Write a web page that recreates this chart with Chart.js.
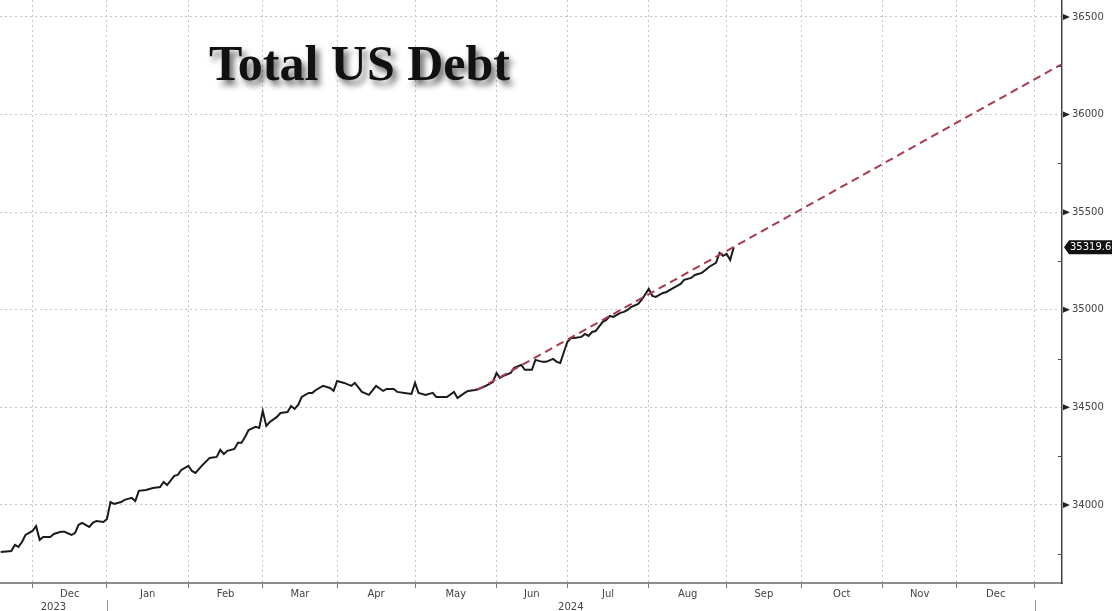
<!DOCTYPE html>
<html lang="en">

<head>
    <meta charset="UTF-8">
    <title>Total US Debt</title>
    <style>
        html, body { margin: 0; padding: 0; background: #fff; overflow: hidden; }
        #debt { display: block; }
    </style>
</head>

<body>
    <canvas id="debt" width="1112" height="611"></canvas>

    <script src="https://cdn.jsdelivr.net/npm/chart.js@4/dist/chart.umd.min.js"></script>

    <script>
        // x = weekday number counted from Mon 1 Jan 2024 (weekends skipped)
        var tradingDay = [-30, -27, -26, -25, -24, -23, -22, -21, -20, -19, -18, -16, -15, -13, -12, -10, -9, -8, -7, -5,
            -4, -3, -1, 0, 1, 2, 4, 5, 7, 8, 9, 11, 13, 15, 16, 17, 19, 20, 21, 23,
            24, 25, 27, 29, 31, 32, 33, 34, 36, 37, 38, 39, 40, 42, 43, 44, 45, 46, 48, 49,
            51, 52, 53, 54, 55, 57, 58, 59, 61, 63, 64, 65, 67, 69, 70, 72, 74, 76, 78, 79,
            81, 82, 84, 86, 87, 88, 90, 92, 93, 96, 98, 99, 101, 102, 104, 105, 107, 109, 110, 111,
            112, 114, 115, 117, 118, 120, 121, 123, 124, 126, 127, 128, 130, 131, 132, 134, 135, 136, 137, 138,
            140, 141, 142, 143, 145, 146, 147, 148, 150, 151, 153, 154, 155, 157, 158, 160, 161, 162, 163, 165,
            166, 168, 169, 170, 172, 173, 174, 175, 176, 177];

        // total public debt, $bn
        var debtBn = [33759, 33764, 33795, 33785, 33810, 33846, 33857, 33867, 33892, 33821, 33836, 33836, 33851, 33862, 33862, 33846, 33857, 33898, 33908, 33887,
            33908, 33918, 33913, 33928, 34015, 34005, 34015, 34026, 34036, 34020, 34072, 34077, 34087, 34092, 34118, 34102, 34149, 34154, 34179, 34200,
            34174, 34164, 34205, 34241, 34246, 34282, 34261, 34277, 34287, 34318, 34318, 34348, 34384, 34400, 34394, 34482, 34405, 34425, 34451, 34471,
            34476, 34507, 34492, 34512, 34553, 34574, 34574, 34589, 34610, 34599, 34584, 34635, 34625, 34610, 34625, 34579, 34564, 34610, 34584, 34594,
            34594, 34579, 34574, 34569, 34625, 34574, 34564, 34574, 34553, 34553, 34579, 34548, 34574, 34584, 34589, 34594, 34610, 34630, 34676, 34651,
            34661, 34676, 34702, 34717, 34692, 34692, 34743, 34733, 34733, 34748, 34733, 34727, 34835, 34855, 34855, 34861, 34876, 34866, 34886, 34891,
            34938, 34948, 34968, 34963, 34984, 34989, 34999, 35014, 35030, 35050, 35107, 35071, 35066, 35086, 35091, 35112, 35122, 35132, 35153, 35163,
            35178, 35189, 35204, 35219, 35240, 35291, 35276, 35286, 35255, 35319.6];

        // trend projection, two ends
        var trendDay = [104.5, 269.7];
        var trendBn = [34589, 36259];

        // first weekday of each month, Dec 2023 .. Jan 2025
        var monthStarts = [-21, 0, 23, 44, 65, 87, 110, 130, 153, 175, 196, 219, 240, 262];
        var monthLabels = ["Dec", "Jan", "Feb", "Mar", "Apr", "May", "Jun", "Jul", "Aug", "Sep", "Oct", "Nov", "Dec"];
        var yearBreaks = [0, 262];
        var yearLabels = ["2023", "2024"];

        var yTicks = [34000, 34500, 35000, 35500, 36000, 36500];

        var lastValue = debtBn[debtBn.length - 1];

        var axisFont = '10px "DejaVu Sans"';

        var decorations = {
            id: "decorations",
            afterDraw: function (chart) {
                var ctx = chart.ctx;
                var area = chart.chartArea;
                var x = chart.scales.x;
                var y = chart.scales.y;

                ctx.save();

                // pointers on the value axis, plus the small in-between marks
                ctx.fillStyle = "#222";
                yTicks.forEach(function (v) {
                    var py = y.getPixelForValue(v);
                    ctx.beginPath();
                    ctx.moveTo(area.right + 1, py - 3);
                    ctx.lineTo(area.right + 8, py);
                    ctx.lineTo(area.right + 1, py + 3);
                    ctx.closePath();
                    ctx.fill();
                });
                ctx.strokeStyle = "#444";
                ctx.lineWidth = 1;
                for (var v = 33750; v < y.max; v += 500) {
                    var py = Math.round(y.getPixelForValue(v)) + 0.5;
                    ctx.beginPath();
                    ctx.moveTo(area.right - 4, py);
                    ctx.lineTo(area.right, py);
                    ctx.stroke();
                }

                // month names centred between month starts
                ctx.font = axisFont;
                ctx.fillStyle = "#444";
                ctx.textAlign = "center";
                ctx.textBaseline = "middle";
                monthLabels.forEach(function (m, i) {
                    var cx = (x.getPixelForValue(monthStarts[i]) + x.getPixelForValue(monthStarts[i + 1])) / 2;
                    ctx.fillText(m, cx, area.bottom + 11);
                });

                // years centred over their visible span, with a divider at each new year
                var spans = [[x.min, yearBreaks[0]], [yearBreaks[0], yearBreaks[1]]];
                yearLabels.forEach(function (t, i) {
                    var cx = (x.getPixelForValue(spans[i][0]) + x.getPixelForValue(spans[i][1])) / 2;
                    ctx.fillText(t, cx, area.bottom + 24);
                });
                ctx.strokeStyle = "#999";
                yearBreaks.forEach(function (d) {
                    var px = Math.round(x.getPixelForValue(d)) + 0.5;
                    ctx.beginPath();
                    ctx.moveTo(px, area.bottom + 17);
                    ctx.lineTo(px, area.bottom + 30);
                    ctx.stroke();
                });

                // last value tag
                var ly = y.getPixelForValue(lastValue);
                ctx.fillStyle = "#111";
                ctx.beginPath();
                ctx.moveTo(area.right + 2, ly);
                ctx.lineTo(area.right + 7, ly - 7);
                ctx.lineTo(chart.width, ly - 7);
                ctx.lineTo(chart.width, ly + 7);
                ctx.lineTo(area.right + 7, ly + 7);
                ctx.closePath();
                ctx.fill();
                ctx.fillStyle = "#fff";
                ctx.textAlign = "left";
                ctx.fillText(String(lastValue), area.right + 8, ly + 0.5);

                // title with drop shadow
                ctx.font = 'bold 50px "Liberation Serif"';
                ctx.textAlign = "left";
                ctx.textBaseline = "alphabetic";
                ctx.fillStyle = "#111";
                ctx.shadowColor = "rgba(0, 0, 0, 0.6)";
                ctx.shadowBlur = 6;
                ctx.shadowOffsetX = 4;
                ctx.shadowOffsetY = 5;
                ctx.fillText("Total US Debt", 209, 80);

                ctx.restore();
            }
        };

        new Chart(document.getElementById("debt"), {
            type: "line",
            data: {
                datasets: [{
                    label: "Total US Debt",
                    data: tradingDay.map(function (d, i) { return { x: d, y: debtBn[i] }; }),
                    borderColor: "#1b1b1b",
                    borderWidth: 2,
                    pointRadius: 0,
                    tension: 0,
                    order: 1
                }, {
                    label: "Trend",
                    data: trendDay.map(function (d, i) { return { x: d, y: trendBn[i] }; }),
                    borderColor: "#a83a4e",
                    borderWidth: 2,
                    borderDash: [8, 5],
                    pointRadius: 0,
                    order: 0
                }]
            },
            options: {
                responsive: false,
                animation: false,
                devicePixelRatio: 1,
                layout: { padding: 0 },
                plugins: {
                    legend: { display: false },
                    tooltip: { enabled: false }
                },
                scales: {
                    x: {
                        type: "linear",
                        position: "bottom",
                        min: -30.2,
                        max: 269.7,
                        afterBuildTicks: function (s) {
                            s.ticks = monthStarts.map(function (v) { return { value: v }; });
                        },
                        afterFit: function (s) {
                            s.height = 28;
                            s.paddingLeft = 0;
                            s.paddingRight = 0;
                        },
                        ticks: { display: false },
                        grid: {
                            color: "#c4c4c4",
                            lineWidth: 1,
                            drawTicks: true,
                            tickLength: 5,
                            tickColor: "#777",
                            tickBorderDash: []
                        },
                        border: { display: true, color: "#8c8c8c", width: 2, dash: [2, 3] }
                    },
                    y: {
                        type: "linear",
                        position: "right",
                        min: 33600,
                        max: 36587,
                        afterBuildTicks: function (s) {
                            s.ticks = yTicks.map(function (v) { return { value: v }; });
                        },
                        afterFit: function (s) {
                            s.width = 50;
                            s.paddingTop = 0;
                            s.paddingBottom = 0;
                        },
                        ticks: {
                            padding: 10,
                            color: "#444",
                            font: { family: "DejaVu Sans", size: 10 },
                            callback: function (v) { return String(v); }
                        },
                        grid: {
                            color: "#c4c4c4",
                            lineWidth: 1,
                            drawTicks: false
                        },
                        border: { display: true, color: "#444", width: 1.5, dash: [2, 3] }
                    }
                }
            },
            plugins: [decorations]
        });
    </script>
</body>

</html>
